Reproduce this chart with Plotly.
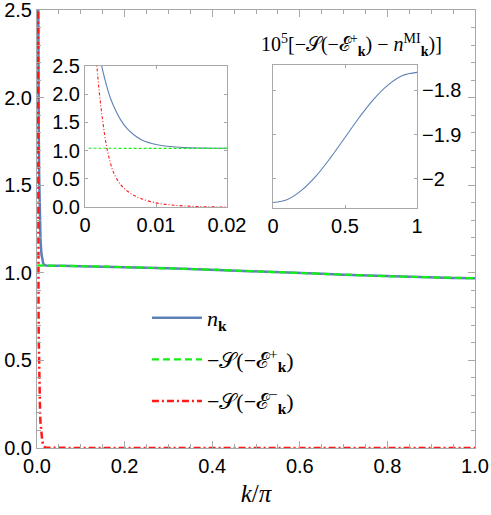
import plotly.graph_objects as go

# main panel data
k = [0.0005, 0.001, 0.0015, 0.002, 0.0025, 0.003, 0.0035, 0.004, 0.005, 0.006,
     0.007, 0.008, 0.01, 0.012, 0.014, 0.016, 0.018, 0.02, 0.05, 0.1,
     0.15, 0.2, 0.25, 0.3, 0.35, 0.4, 0.45, 0.5, 0.55, 0.6,
     0.65, 0.7, 0.75, 0.8, 0.85, 0.9, 0.95, 1.0]
n_k = [4.10, 3.55, 3.09, 2.72, 2.42, 2.17, 1.96, 1.80, 1.55, 1.38,
       1.27, 1.19, 1.11, 1.073, 1.055, 1.047, 1.044, 1.042, 1.040, 1.038,
       1.036, 1.033, 1.030, 1.026, 1.022, 1.018, 1.013, 1.009, 1.004, 0.999,
       0.994, 0.989, 0.985, 0.980, 0.977, 0.974, 0.971, 0.969]
s_plus = [1.042, 1.042, 1.042, 1.042, 1.042, 1.042, 1.042, 1.042, 1.042, 1.042,
          1.042, 1.042, 1.042, 1.042, 1.042, 1.042, 1.042, 1.042, 1.040, 1.038,
          1.036, 1.033, 1.030, 1.026, 1.022, 1.018, 1.013, 1.009, 1.004, 0.999,
          0.994, 0.989, 0.985, 0.980, 0.977, 0.974, 0.971, 0.969]
s_minus = [6.0, 4.0, 2.8, 2.05, 1.52, 1.1, 0.82, 0.62, 0.40, 0.28,
           0.20, 0.145, 0.075, 0.04, 0.02, 0.01, 0.004, 0.002, 0.0, 0.0,
           0.0, 0.0, 0.0, 0.0, 0.0, 0.0, 0.0, 0.0, 0.0, 0.0,
           0.0, 0.0, 0.0, 0.0, 0.0, 0.0, 0.0, 0.0]

# right inset: 10^5 [-S(-E+) - n^MI]
k_in2 = [0, 0.1, 0.2, 0.3, 0.4, 0.5, 0.6, 0.7, 0.8, 0.9, 1.0]
diff_in2 = [-2.053, -2.046, -2.025, -1.993, -1.952, -1.9065, -1.861, -1.820, -1.788, -1.767, -1.760]

BLUE = "#5E81B5"
GREEN = "#14F014"
RED = "#FF1A1A"
FRAME = "#A8A8A8"
SANS = "Liberation Sans"
SERIF = "Liberation Serif"

lbl_n = "<i>n</i><sub><b>k</b></sub>"
lbl_plus = "−𝒮(−ℰ<sup>+</sup><sub><b>k</b></sub>)"
lbl_minus = "−𝒮(−ℰ<sup>−</sup><sub><b>k</b></sub>)"

fig = go.Figure()

# main curves
fig.add_trace(go.Scatter(x=k, y=n_k, mode="lines", name=lbl_n, legendgroup="a",
                         line=dict(color=BLUE, width=2.5)))
fig.add_trace(go.Scatter(x=k, y=s_plus, mode="lines", name=lbl_plus, legendgroup="b",
                         line=dict(color=GREEN, width=2.2, dash="7px,4px")))
fig.add_trace(go.Scatter(x=k, y=s_minus, mode="lines", name=lbl_minus, legendgroup="c",
                         line=dict(color=RED, width=2.5, dash="7px,3px,2px,3px")))

# left inset (zoom on small k)
fig.add_trace(go.Scatter(x=k, y=n_k, mode="lines", xaxis="x2", yaxis="y2", showlegend=False,
                         line=dict(color=BLUE, width=1.1, shape="spline")))
fig.add_trace(go.Scatter(x=k, y=s_plus, mode="lines", xaxis="x2", yaxis="y2", showlegend=False,
                         line=dict(color=GREEN, width=1.1, dash="3px,2px")))
fig.add_trace(go.Scatter(x=k, y=s_minus, mode="lines", xaxis="x2", yaxis="y2", showlegend=False,
                         line=dict(color=RED, width=1.1, dash="3px,2px,1px,2px", shape="spline")))

# right inset
fig.add_trace(go.Scatter(x=k_in2, y=diff_in2, mode="lines", xaxis="x3", yaxis="y3", showlegend=False,
                         line=dict(color=BLUE, width=1.1, shape="spline")))

frame = dict(showline=True, linecolor=FRAME, linewidth=1, mirror="allticks",
             showgrid=False, zeroline=False, ticks="inside", tickcolor=FRAME,
             automargin=False, ticklabeloverflow="allow",
             tickfont=dict(family=SANS, size=20, color="black"))

fig.update_layout(
    width=491, height=515,
    paper_bgcolor="white", plot_bgcolor="white",
    margin=dict(l=37, r=16, t=10, b=67),
    xaxis=dict(frame, range=[0, 1], dtick=0.2, tickformat=".1f", ticklen=7,
               minor=dict(dtick=0.05, ticks="inside", ticklen=4, tickcolor=FRAME),
               title=dict(text="<i>k</i>/<i>π</i>", font=dict(family=SERIF, size=25, color="black"),
                          standoff=8)),
    yaxis=dict(frame, range=[0, 2.5], dtick=0.5, tickformat=".1f", ticklen=7,
               minor=dict(dtick=0.1, ticks="inside", ticklen=4, tickcolor=FRAME)),
    xaxis2=dict(frame, domain=[0.1096, 0.4338], anchor="y2", range=[0, 0.02],
                tickvals=[0, 0.01, 0.02], ticklen=3),
    yaxis2=dict(frame, domain=[0.550, 0.872], anchor="x2", range=[0, 2.5],
                dtick=0.5, tickformat=".1f", ticklen=3),
    xaxis3=dict(frame, domain=[0.5388, 0.8676], anchor="y3", range=[0, 1],
                tickvals=[0, 0.5, 1], ticklen=3),
    yaxis3=dict(frame, domain=[0.5479, 0.8744], anchor="x3", side="right",
                range=[-2.0654, -1.7434], tickvals=[-2, -1.9, -1.8], ticklen=3),
    legend=dict(x=0.251, y=0.345, xanchor="left", yanchor="top", itemwidth=50,
                bgcolor="rgba(0,0,0,0)", tracegroupgap=10,
                font=dict(family=SERIF, size=22, color="black")),
    annotations=[dict(
        text="10<sup>5</sup>[−𝒮(−ℰ<sup>+</sup><sub><b>k</b></sub>) − <i>n</i><sup>MI</sup><sub><b>k</b></sub>)]",
        xref="paper", yref="paper", x=0.717, y=0.92, xanchor="center", yanchor="middle",
        showarrow=False, font=dict(family=SERIF, size=20, color="black"))],
)

# drop the default 8px page margin so the 491x515 figure fills the window exactly
fig.write_html("out.html", config={"displayModeBar": False},
               post_script="document.body.style.margin='0px';")
